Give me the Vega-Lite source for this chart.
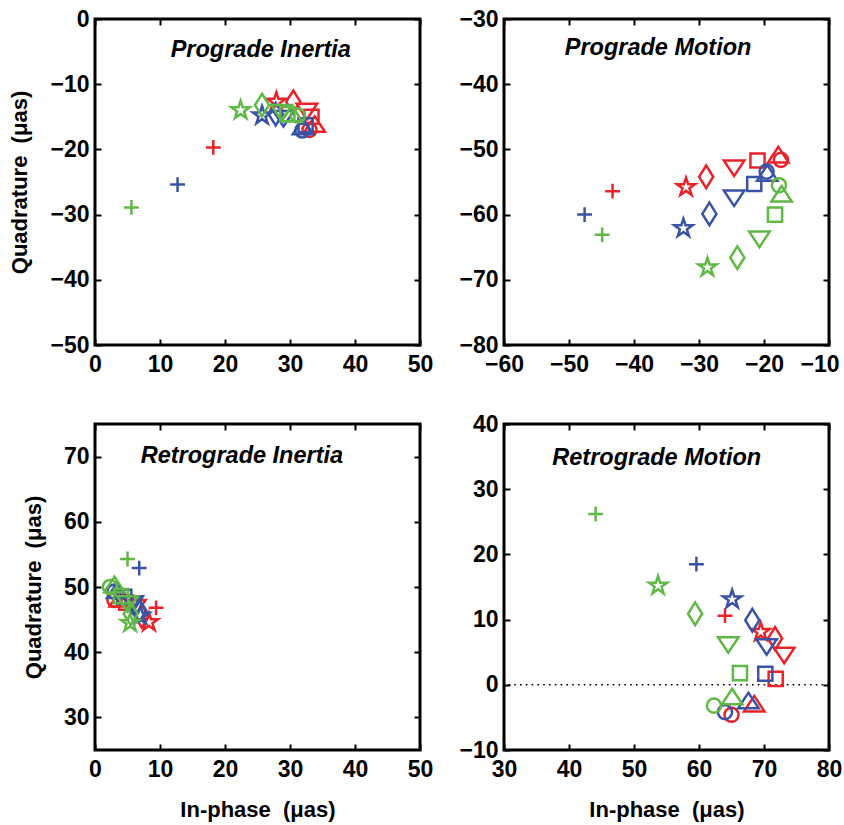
{
  "$schema": "https://vega.github.io/schema/vega-lite/v6.json",
  "background": "white",
  "padding": {"left": 7, "top": 6, "right": 5, "bottom": 5},
  "bounds": "flush",
  "columns": 2,
  "spacing": {"row": 79, "column": 84},
  "datasets": {
    "points": [
      {"panel": "PI", "series": "S1", "marker": "M1", "x": 18.2, "y": -19.7},
      {"panel": "PI", "series": "S1", "marker": "M2", "x": 27.9, "y": -12.7},
      {"panel": "PI", "series": "S1", "marker": "M3", "x": 30.5, "y": -12.7},
      {"panel": "PI", "series": "S1", "marker": "M4", "x": 32.6, "y": -14.2},
      {"panel": "PI", "series": "S1", "marker": "M5", "x": 33.3, "y": -15.0},
      {"panel": "PI", "series": "S1", "marker": "M6", "x": 33.8, "y": -16.1},
      {"panel": "PI", "series": "S1", "marker": "M7", "x": 33.0, "y": -17.0},
      {"panel": "PI", "series": "S2", "marker": "M1", "x": 12.7, "y": -25.4},
      {"panel": "PI", "series": "S2", "marker": "M2", "x": 25.7, "y": -14.8},
      {"panel": "PI", "series": "S2", "marker": "M3", "x": 27.8, "y": -14.6},
      {"panel": "PI", "series": "S2", "marker": "M4", "x": 29.0, "y": -15.3},
      {"panel": "PI", "series": "S2", "marker": "M5", "x": 32.4, "y": -16.3},
      {"panel": "PI", "series": "S2", "marker": "M6", "x": 32.0, "y": -16.5},
      {"panel": "PI", "series": "S2", "marker": "M7", "x": 31.9, "y": -17.1},
      {"panel": "PI", "series": "S3", "marker": "M1", "x": 5.6, "y": -28.9},
      {"panel": "PI", "series": "S3", "marker": "M2", "x": 22.4, "y": -14.0},
      {"panel": "PI", "series": "S3", "marker": "M3", "x": 25.7, "y": -13.2},
      {"panel": "PI", "series": "S3", "marker": "M4", "x": 28.7, "y": -14.4},
      {"panel": "PI", "series": "S3", "marker": "M5", "x": 29.6, "y": -14.6},
      {"panel": "PI", "series": "S3", "marker": "M6", "x": 30.3, "y": -14.5},
      {"panel": "PI", "series": "S3", "marker": "M7", "x": 31.2, "y": -14.8},

      {"panel": "PM", "series": "S1", "marker": "M1", "x": -43.3, "y": -56.4},
      {"panel": "PM", "series": "S1", "marker": "M2", "x": -32.0, "y": -55.8},
      {"panel": "PM", "series": "S1", "marker": "M3", "x": -28.9, "y": -54.2},
      {"panel": "PM", "series": "S1", "marker": "M4", "x": -24.6, "y": -52.9},
      {"panel": "PM", "series": "S1", "marker": "M5", "x": -21.0, "y": -51.7},
      {"panel": "PM", "series": "S1", "marker": "M6", "x": -17.8, "y": -50.8},
      {"panel": "PM", "series": "S1", "marker": "M7", "x": -17.4, "y": -51.6},
      {"panel": "PM", "series": "S2", "marker": "M1", "x": -47.6, "y": -60.0},
      {"panel": "PM", "series": "S2", "marker": "M2", "x": -32.4, "y": -62.1},
      {"panel": "PM", "series": "S2", "marker": "M3", "x": -28.4, "y": -59.9},
      {"panel": "PM", "series": "S2", "marker": "M4", "x": -24.6, "y": -57.5},
      {"panel": "PM", "series": "S2", "marker": "M5", "x": -21.5, "y": -55.3},
      {"panel": "PM", "series": "S2", "marker": "M6", "x": -19.5, "y": -53.6},
      {"panel": "PM", "series": "S2", "marker": "M7", "x": -19.6, "y": -53.4},
      {"panel": "PM", "series": "S3", "marker": "M1", "x": -44.9, "y": -63.1},
      {"panel": "PM", "series": "S3", "marker": "M2", "x": -28.7, "y": -68.1},
      {"panel": "PM", "series": "S3", "marker": "M3", "x": -24.1, "y": -66.6},
      {"panel": "PM", "series": "S3", "marker": "M4", "x": -20.7, "y": -63.8},
      {"panel": "PM", "series": "S3", "marker": "M5", "x": -18.3, "y": -60.0},
      {"panel": "PM", "series": "S3", "marker": "M6", "x": -17.3, "y": -56.8},
      {"panel": "PM", "series": "S3", "marker": "M7", "x": -17.7, "y": -55.5},

      {"panel": "RI", "series": "S1", "marker": "M1", "x": 9.4, "y": 46.8},
      {"panel": "RI", "series": "S1", "marker": "M2", "x": 8.3, "y": 44.6},
      {"panel": "RI", "series": "S1", "marker": "M3", "x": 7.2, "y": 45.5},
      {"panel": "RI", "series": "S1", "marker": "M4", "x": 6.2, "y": 46.8},
      {"panel": "RI", "series": "S1", "marker": "M5", "x": 4.8, "y": 47.6},
      {"panel": "RI", "series": "S1", "marker": "M6", "x": 3.8, "y": 48.2},
      {"panel": "RI", "series": "S1", "marker": "M7", "x": 3.0, "y": 48.0},
      {"panel": "RI", "series": "S2", "marker": "M1", "x": 6.8, "y": 52.9},
      {"panel": "RI", "series": "S2", "marker": "M2", "x": 7.0, "y": 45.6},
      {"panel": "RI", "series": "S2", "marker": "M3", "x": 6.8, "y": 46.4},
      {"panel": "RI", "series": "S2", "marker": "M4", "x": 5.8, "y": 47.4},
      {"panel": "RI", "series": "S2", "marker": "M5", "x": 4.5, "y": 48.5},
      {"panel": "RI", "series": "S2", "marker": "M6", "x": 3.4, "y": 49.5},
      {"panel": "RI", "series": "S2", "marker": "M7", "x": 3.0, "y": 49.3},
      {"panel": "RI", "series": "S3", "marker": "M1", "x": 5.0, "y": 54.3},
      {"panel": "RI", "series": "S3", "marker": "M2", "x": 5.4, "y": 44.5},
      {"panel": "RI", "series": "S3", "marker": "M3", "x": 5.5, "y": 45.9},
      {"panel": "RI", "series": "S3", "marker": "M4", "x": 5.0, "y": 47.4},
      {"panel": "RI", "series": "S3", "marker": "M5", "x": 4.0, "y": 48.6},
      {"panel": "RI", "series": "S3", "marker": "M6", "x": 3.0, "y": 50.4},
      {"panel": "RI", "series": "S3", "marker": "M7", "x": 2.3, "y": 50.0},

      {"panel": "RM", "series": "S1", "marker": "M1", "x": 64.0, "y": 10.6},
      {"panel": "RM", "series": "S1", "marker": "M2", "x": 69.5, "y": 8.1},
      {"panel": "RM", "series": "S1", "marker": "M3", "x": 71.7, "y": 7.1},
      {"panel": "RM", "series": "S1", "marker": "M4", "x": 73.1, "y": 4.5},
      {"panel": "RM", "series": "S1", "marker": "M5", "x": 71.8, "y": 0.9},
      {"panel": "RM", "series": "S1", "marker": "M6", "x": 68.5, "y": -2.9},
      {"panel": "RM", "series": "S1", "marker": "M7", "x": 65.0, "y": -4.6},
      {"panel": "RM", "series": "S2", "marker": "M1", "x": 59.6, "y": 18.5},
      {"panel": "RM", "series": "S2", "marker": "M2", "x": 65.1, "y": 13.1},
      {"panel": "RM", "series": "S2", "marker": "M3", "x": 68.2, "y": 9.9},
      {"panel": "RM", "series": "S2", "marker": "M4", "x": 70.4, "y": 5.8},
      {"panel": "RM", "series": "S2", "marker": "M5", "x": 70.2, "y": 1.7},
      {"panel": "RM", "series": "S2", "marker": "M6", "x": 67.6, "y": -2.4},
      {"panel": "RM", "series": "S2", "marker": "M7", "x": 64.0, "y": -4.2},
      {"panel": "RM", "series": "S3", "marker": "M1", "x": 44.1, "y": 26.2},
      {"panel": "RM", "series": "S3", "marker": "M2", "x": 53.7, "y": 15.2},
      {"panel": "RM", "series": "S3", "marker": "M3", "x": 59.4, "y": 10.9},
      {"panel": "RM", "series": "S3", "marker": "M4", "x": 64.5, "y": 6.1},
      {"panel": "RM", "series": "S3", "marker": "M5", "x": 66.3, "y": 1.8},
      {"panel": "RM", "series": "S3", "marker": "M6", "x": 65.1, "y": -1.8},
      {"panel": "RM", "series": "S3", "marker": "M7", "x": 62.3, "y": -3.2}
    ],
    "labels": [
      {"panel": "PI", "label": "Prograde Inertia", "x": 25.5, "y": -4.7},
      {"panel": "PM", "label": "Prograde Motion", "x": -36.3, "y": -34.5},
      {"panel": "RI", "label": "Retrograde Inertia", "x": 22.6, "y": 70.1},
      {"panel": "RM", "label": "Retrograde Motion", "x": 53.5, "y": 34.8}
    ]
  },
  "config": {
    "font": "Liberation Sans",
    "view": {"stroke": "black", "strokeWidth": 3},
    "axis": {
      "grid": false,
      "domain": false,
      "ticks": true,
      "tickSize": -6,
      "tickWidth": 2,
      "tickColor": "black",
      "labelFont": "Liberation Sans",
      "labelFontSize": 23,
      "labelFontWeight": "bold",
      "labelColor": "black",
      "labelOverlap": false,
      "labelFlush": false,
      "titleFont": "Liberation Sans",
      "titleFontSize": 22,
      "titleFontWeight": "bold",
      "titleColor": "black"
    },
    "axisX": {"labelPadding": 14, "titlePadding": 18},
    "axisY": {"labelPadding": 12, "titlePadding": 18}
  },
  "concat": [
    {
      "width": 325, "height": 326,
      "layer": [
        {
          "data": {"name": "points"},
          "transform": [{"filter": "datum.panel === 'PI'"}],
          "mark": {"type": "point", "filled": false, "strokeWidth": 2.5, "size": 200, "opacity": 1},
          "encoding": {
            "x": {"field": "x", "type": "quantitative", "scale": {"domain": [0, 50], "nice": false, "zero": false}, "axis": {"values": [0, 10, 20, 30, 40, 50], "title": null}},
            "y": {"field": "y", "type": "quantitative", "scale": {"domain": [-50, 0], "nice": false, "zero": false}, "axis": {"values": [-50, -40, -30, -20, -10, 0], "title": "Quadrature\u00a0\u00a0(μas)"}},
            "color": {"field": "series", "type": "nominal", "scale": {"domain": ["S1", "S2", "S3"], "range": ["#e8232a", "#3a53a4", "#60b847"]}, "legend": null},
            "shape": {"field": "marker", "type": "nominal", "scale": {"domain": ["M1", "M2", "M3", "M4", "M5", "M6", "M7"], "range": ["M-1.05,0L1.05,0M0,-1.05L0,1.05", "M0,-1.35L0.304,-0.418L1.284,-0.418L0.49,0.159L0.794,1.092L0,0.516L-0.794,1.092L-0.49,0.159L-1.284,-0.418L-0.304,-0.418Z", "M0,-1.6L1.0,0L0,1.6L-1.0,0Z", "M-1.45,-1.1L1.45,-1.1L0,1.1Z", "M-1.0,-1.0L1.0,-1.0L1.0,1.0L-1.0,1.0Z", "M0,-1.1L1.45,1.1L-1.45,1.1Z", "circle"]}, "legend": null}
          }
        },
        {
          "data": {"name": "labels"},
          "transform": [{"filter": "datum.panel === 'PI'"}],
          "mark": {"type": "text", "font": "Liberation Sans", "fontWeight": "bold", "fontStyle": "italic", "fontSize": 23.5, "color": "black", "baseline": "middle", "align": "center"},
          "encoding": {
            "x": {"field": "x", "type": "quantitative", "scale": {"domain": [0, 50], "nice": false, "zero": false}, "axis": {"orient": "top", "labels": false, "title": null, "values": [0, 10, 20, 30, 40, 50]}},
            "y": {"field": "y", "type": "quantitative", "scale": {"domain": [-50, 0], "nice": false, "zero": false}, "axis": {"orient": "right", "labels": false, "title": null, "values": [-50, -40, -30, -20, -10, 0]}},
            "text": {"field": "label"}
          }
        }
      ],
      "resolve": {"axis": {"x": "independent", "y": "independent"}}
    },
    {
      "width": 325, "height": 326,
      "layer": [
        {
          "data": {"name": "points"},
          "transform": [{"filter": "datum.panel === 'PM'"}],
          "mark": {"type": "point", "filled": false, "strokeWidth": 2.5, "size": 200, "opacity": 1},
          "encoding": {
            "x": {"field": "x", "type": "quantitative", "scale": {"domain": [-60, -10], "nice": false, "zero": false}, "axis": {"values": [-60, -50, -40, -30, -20, -10], "title": null, "labelAlign": {"expr": "datum.value === -10 ? 'right' : 'center'"}, "labelOffset": {"expr": "datum.value === -10 ? 10 : 0"}}},
            "y": {"field": "y", "type": "quantitative", "scale": {"domain": [-80, -30], "nice": false, "zero": false}, "axis": {"values": [-80, -70, -60, -50, -40, -30], "title": null}},
            "color": {"field": "series", "type": "nominal", "scale": {"domain": ["S1", "S2", "S3"], "range": ["#e8232a", "#3a53a4", "#60b847"]}, "legend": null},
            "shape": {"field": "marker", "type": "nominal", "scale": {"domain": ["M1", "M2", "M3", "M4", "M5", "M6", "M7"], "range": ["M-1.05,0L1.05,0M0,-1.05L0,1.05", "M0,-1.35L0.304,-0.418L1.284,-0.418L0.49,0.159L0.794,1.092L0,0.516L-0.794,1.092L-0.49,0.159L-1.284,-0.418L-0.304,-0.418Z", "M0,-1.6L1.0,0L0,1.6L-1.0,0Z", "M-1.45,-1.1L1.45,-1.1L0,1.1Z", "M-1.0,-1.0L1.0,-1.0L1.0,1.0L-1.0,1.0Z", "M0,-1.1L1.45,1.1L-1.45,1.1Z", "circle"]}, "legend": null}
          }
        },
        {
          "data": {"name": "labels"},
          "transform": [{"filter": "datum.panel === 'PM'"}],
          "mark": {"type": "text", "font": "Liberation Sans", "fontWeight": "bold", "fontStyle": "italic", "fontSize": 23.5, "color": "black", "baseline": "middle", "align": "center"},
          "encoding": {
            "x": {"field": "x", "type": "quantitative", "scale": {"domain": [-60, -10], "nice": false, "zero": false}, "axis": {"orient": "top", "labels": false, "title": null, "values": [-60, -50, -40, -30, -20, -10]}},
            "y": {"field": "y", "type": "quantitative", "scale": {"domain": [-80, -30], "nice": false, "zero": false}, "axis": {"orient": "right", "labels": false, "title": null, "values": [-80, -70, -60, -50, -40, -30]}},
            "text": {"field": "label"}
          }
        }
      ],
      "resolve": {"axis": {"x": "independent", "y": "independent"}}
    },
    {
      "width": 325, "height": 326,
      "layer": [
        {
          "data": {"name": "points"},
          "transform": [{"filter": "datum.panel === 'RI'"}],
          "mark": {"type": "point", "filled": false, "strokeWidth": 2.5, "size": 200, "opacity": 1},
          "encoding": {
            "x": {"field": "x", "type": "quantitative", "scale": {"domain": [0, 50], "nice": false, "zero": false}, "axis": {"values": [0, 10, 20, 30, 40, 50], "title": "In-phase\u00a0\u00a0(μas)"}},
            "y": {"field": "y", "type": "quantitative", "scale": {"domain": [25, 75], "nice": false, "zero": false}, "axis": {"values": [30, 40, 50, 60, 70], "title": "Quadrature\u00a0\u00a0(μas)"}},
            "color": {"field": "series", "type": "nominal", "scale": {"domain": ["S1", "S2", "S3"], "range": ["#e8232a", "#3a53a4", "#60b847"]}, "legend": null},
            "shape": {"field": "marker", "type": "nominal", "scale": {"domain": ["M1", "M2", "M3", "M4", "M5", "M6", "M7"], "range": ["M-1.05,0L1.05,0M0,-1.05L0,1.05", "M0,-1.35L0.304,-0.418L1.284,-0.418L0.49,0.159L0.794,1.092L0,0.516L-0.794,1.092L-0.49,0.159L-1.284,-0.418L-0.304,-0.418Z", "M0,-1.6L1.0,0L0,1.6L-1.0,0Z", "M-1.45,-1.1L1.45,-1.1L0,1.1Z", "M-1.0,-1.0L1.0,-1.0L1.0,1.0L-1.0,1.0Z", "M0,-1.1L1.45,1.1L-1.45,1.1Z", "circle"]}, "legend": null}
          }
        },
        {
          "data": {"name": "labels"},
          "transform": [{"filter": "datum.panel === 'RI'"}],
          "mark": {"type": "text", "font": "Liberation Sans", "fontWeight": "bold", "fontStyle": "italic", "fontSize": 23.5, "color": "black", "baseline": "middle", "align": "center"},
          "encoding": {
            "x": {"field": "x", "type": "quantitative", "scale": {"domain": [0, 50], "nice": false, "zero": false}, "axis": {"orient": "top", "labels": false, "title": null, "values": [0, 10, 20, 30, 40, 50]}},
            "y": {"field": "y", "type": "quantitative", "scale": {"domain": [25, 75], "nice": false, "zero": false}, "axis": {"orient": "right", "labels": false, "title": null, "values": [30, 40, 50, 60, 70]}},
            "text": {"field": "label"}
          }
        }
      ],
      "resolve": {"axis": {"x": "independent", "y": "independent"}}
    },
    {
      "width": 325, "height": 326,
      "layer": [
        {
          "data": {"values": [{"y": 0}]},
          "mark": {"type": "rule", "color": "black", "strokeWidth": 1.6, "strokeDash": [1.6, 4.2]},
          "encoding": {
            "y": {"field": "y", "type": "quantitative", "scale": {"domain": [-10, 40], "nice": false, "zero": false}, "axis": null}
          }
        },
        {
          "data": {"name": "points"},
          "transform": [{"filter": "datum.panel === 'RM'"}],
          "mark": {"type": "point", "filled": false, "strokeWidth": 2.5, "size": 200, "opacity": 1},
          "encoding": {
            "x": {"field": "x", "type": "quantitative", "scale": {"domain": [30, 80], "nice": false, "zero": false}, "axis": {"values": [30, 40, 50, 60, 70, 80], "title": "In-phase\u00a0\u00a0(μas)"}},
            "y": {"field": "y", "type": "quantitative", "scale": {"domain": [-10, 40], "nice": false, "zero": false}, "axis": {"values": [-10, 0, 10, 20, 30, 40], "title": null}},
            "color": {"field": "series", "type": "nominal", "scale": {"domain": ["S1", "S2", "S3"], "range": ["#e8232a", "#3a53a4", "#60b847"]}, "legend": null},
            "shape": {"field": "marker", "type": "nominal", "scale": {"domain": ["M1", "M2", "M3", "M4", "M5", "M6", "M7"], "range": ["M-1.05,0L1.05,0M0,-1.05L0,1.05", "M0,-1.35L0.304,-0.418L1.284,-0.418L0.49,0.159L0.794,1.092L0,0.516L-0.794,1.092L-0.49,0.159L-1.284,-0.418L-0.304,-0.418Z", "M0,-1.6L1.0,0L0,1.6L-1.0,0Z", "M-1.45,-1.1L1.45,-1.1L0,1.1Z", "M-1.0,-1.0L1.0,-1.0L1.0,1.0L-1.0,1.0Z", "M0,-1.1L1.45,1.1L-1.45,1.1Z", "circle"]}, "legend": null}
          }
        },
        {
          "data": {"name": "labels"},
          "transform": [{"filter": "datum.panel === 'RM'"}],
          "mark": {"type": "text", "font": "Liberation Sans", "fontWeight": "bold", "fontStyle": "italic", "fontSize": 23.5, "color": "black", "baseline": "middle", "align": "center"},
          "encoding": {
            "x": {"field": "x", "type": "quantitative", "scale": {"domain": [30, 80], "nice": false, "zero": false}, "axis": {"orient": "top", "labels": false, "title": null, "values": [30, 40, 50, 60, 70, 80]}},
            "y": {"field": "y", "type": "quantitative", "scale": {"domain": [-10, 40], "nice": false, "zero": false}, "axis": {"orient": "right", "labels": false, "title": null, "values": [-10, 0, 10, 20, 30, 40]}},
            "text": {"field": "label"}
          }
        }
      ],
      "resolve": {"axis": {"x": "independent", "y": "independent"}}
    }
  ]
}
